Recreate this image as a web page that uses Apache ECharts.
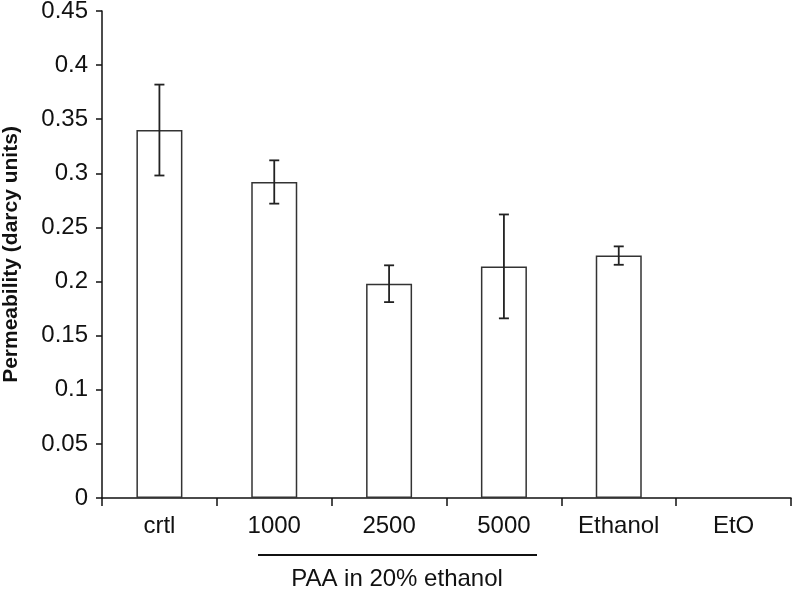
<!DOCTYPE html>
<html>
<head>
<meta charset="utf-8">
<script src="https://cdn.jsdelivr.net/npm/echarts@6/dist/echarts.min.js"></script>
<style>
html,body{margin:0;padding:0;background:#fff;}
#chart{width:792px;height:595px;}
</style>
</head>
<body>
<div id="chart"></div>
<script>
const categories = ['crtl', '1000', '2500', '5000', 'Ethanol', 'EtO'];
const permeability = [0.340, 0.292, 0.198, 0.214, 0.224, null];
const errors = [0.042, 0.020, 0.017, 0.048, 0.0085, null];
const yTicks = { min: 0, max: 0.45, interval: 0.05 };
const groupLabel = 'PAA in 20% ethanol';
const yName = 'Permeability (darcy units)';

const font = 'Arial, "Liberation Sans", sans-serif';
const chart = echarts.init(document.getElementById('chart'), null, { renderer: 'canvas' });

const errData = categories.map((c, i) => permeability[i] == null ? null :
  [i, permeability[i] - errors[i], permeability[i] + errors[i]]).filter(d => d);

chart.setOption({
  animation: false,
  backgroundColor: '#fff',
  grid: { left: 102, right: 1, top: 11, bottom: 97, containLabel: false, outerBoundsMode: 'none' },
  xAxis: {
    type: 'category',
    data: categories,
    boundaryGap: true,
    axisLine: { lineStyle: { color: '#111', width: 1.5 } },
    axisTick: { show: true, length: 8, alignWithLabel: false, lineStyle: { color: '#111', width: 1.5 } },
    axisLabel: { color: '#111', fontFamily: font, fontSize: 24, margin: 16 },
    splitLine: { show: false }
  },
  yAxis: {
    type: 'value',
    min: yTicks.min, max: yTicks.max, interval: yTicks.interval,
    name: yName,
    nameLocation: 'middle',
    nameGap: 80,
    nameRotate: 90,
    nameTextStyle: { color: '#111', fontFamily: font, fontSize: 21, fontWeight: 'bold' },
    axisLine: { show: true, lineStyle: { color: '#111', width: 1.5 } },
    axisTick: { show: true, length: 6, lineStyle: { color: '#111', width: 1.5 } },
    axisLabel: { color: '#111', fontFamily: font, fontSize: 24, margin: 14,
      formatter: v => String(parseFloat(v.toFixed(2))) },
    splitLine: { show: false }
  },
  series: [
    {
      type: 'bar',
      data: permeability.map(v => v == null ? '-' : v),
      barWidth: 46,
      itemStyle: { color: '#fff', borderColor: '#333', borderWidth: 1.5 },
      z: 2
    },
    {
      type: 'custom',
      data: errData,
      z: 3,
      renderItem: function (params, api) {
        const x = api.value(0);
        const lo = api.coord([x, api.value(1)]);
        const hi = api.coord([x, api.value(2)]);
        const cap = 5;
        const st = { stroke: '#222', lineWidth: 1.8 };
        return {
          type: 'group',
          children: [
            { type: 'line', shape: { x1: hi[0], y1: hi[1], x2: lo[0], y2: lo[1] }, style: st },
            { type: 'line', shape: { x1: hi[0] - cap, y1: hi[1], x2: hi[0] + cap, y2: hi[1] }, style: st },
            { type: 'line', shape: { x1: lo[0] - cap, y1: lo[1], x2: lo[0] + cap, y2: lo[1] }, style: st }
          ]
        };
      }
    }
  ],
  graphic: [
    { type: 'line', shape: { x1: 258, y1: 555, x2: 537, y2: 555 }, style: { stroke: '#111', lineWidth: 2 } },
    { type: 'text', x: 397, y: 567, style: { text: groupLabel, fill: '#111', font: '24px ' + font, textAlign: 'center', textVerticalAlign: 'top' } }
  ]
});
</script>
</body>
</html>
